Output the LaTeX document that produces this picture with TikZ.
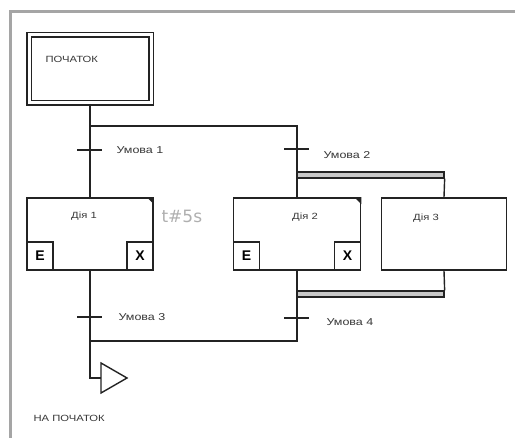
\documentclass[tikz,border=0pt]{standalone}
\usepackage{fontspec}
\setmainfont{Liberation Sans}
\newfontfamily\widefont[FakeStretch=1.25]{Liberation Sans}
\newfontfamily\timefont{DejaVu Sans}
\usetikzlibrary{positioning}
\definecolor{linegray}{RGB}{35, 35, 35}
\definecolor{framegray}{RGB}{165, 165, 165}
\definecolor{timegray}{RGB}{175, 175, 175}
\definecolor{bargray}{RGB}{200, 200, 200}
\definecolor{darktext}{RGB}{55, 55, 55}

\tikzset{
  initbox/.style={rectangle, draw=linegray, double, double distance=3pt, line width=1.6pt, minimum width=122pt, minimum height=68pt, inner sep=0pt},
  stepbox/.style={rectangle, draw=linegray, line width=1.5pt, minimum height=72pt, inner sep=0pt},
  qualbox/.style={rectangle, draw=linegray, line width=1.5pt, minimum width=26pt, minimum height=28pt, inner sep=0pt, font=\bfseries\fontsize{14}{14}\selectfont},
  steptext/.style={font=\widefont\fontsize{9}{10}\selectfont, text=darktext},
  condtext/.style={anchor=west, font=\widefont\fontsize{10}{11}\selectfont, text=darktext},
  bigtext/.style={anchor=west, font=\widefont\fontsize{9}{10}\selectfont, text=darktext},
  simbar/.style={rectangle, draw=linegray, fill=bargray, line width=1.3pt, minimum width=147pt, minimum height=6pt, inner sep=0pt},
  wire/.style={draw=linegray, line width=1.4pt},
  tick/.style={draw=linegray, line width=1.4pt},
}

\begin{document}
\begin{tikzpicture}[x=1pt, y=-1pt]
  \useasboundingbox (0,0) rectangle (515,438);
  % frame
  \draw[framegray, line width=3pt] (10,438) -- (10,12) -- (515,12);

  % steps
  \node[initbox] (start) at (90,69) {};
  \node[bigtext] (starttext) at (42,59) {ПОЧАТОК};
  \node[stepbox, minimum width=126pt] (step1) at (90,234) {};
  \node[stepbox, minimum width=127pt] (step2) at (297,234) {};
  \node[stepbox, minimum width=125pt] (step3) at (444,234) {};
  \node[steptext] at (84,216) {Дія 1};
  \node[steptext] at (305,217) {Дія 2};
  \node[steptext] at (426,218) {Дія 3};
  \node[qualbox, anchor=south west] (e1) at (step1.south west) {E};
  \node[qualbox, anchor=south east] (x1) at (step1.south east) {X};
  \node[qualbox, anchor=south west] (e2) at (step2.south west) {E};
  \node[qualbox, anchor=south east] (x2) at (step2.south east) {X};
  \fill[linegray] (step1.north east) -- ++(-7,0) -- ++(7,7) -- cycle;
  \fill[linegray] (step2.north east) -- ++(-7,0) -- ++(7,7) -- cycle;
  \node[anchor=west, text=timegray, font=\timefont\fontsize{17}{17}\selectfont] (time1) at (158,216) {t\#5s};

  % parallel bars
  \node[simbar] (split) at (370.5,175) {};
  \node[simbar] (join) at (370.5,294) {};

  % junctions
  \coordinate (fork) at (90,126);
  \coordinate (merge) at (297,341);
  \coordinate (jump) at (101,378);

  % connectors
  \draw[wire] (start.south) -- (step1.north);
  \draw[wire] (fork) -| (step2.north);
  \draw[wire] (split.south east) -- (step3.north);
  \draw[wire] (step2.south) -- (merge) -- (merge -| step1.south);
  \draw[wire] (step3.south) -- (join.north east);
  \draw[wire] (step1.south) |- (jump);
  \draw[wire] (jump) -- ++(0,-15) -- ++(26,15) -- ++(-26,15) -- cycle;

  % transitions
  \draw[tick] (77,150) -- (102,150);
  \draw[tick] (284,149) -- (309,149);
  \draw[tick] (77,317) -- (102,317);
  \draw[tick] (284,318) -- (309,318);
  \node[condtext] at (113,150) {Умова 1};
  \node[condtext] at (320,155) {Умова 2};
  \node[condtext] at (115,317) {Умова 3};
  \node[condtext] at (323,322) {Умова 4};

  \node[bigtext] (endtext) at (30,418) {НА ПОЧАТОК};
\end{tikzpicture}
\end{document}
